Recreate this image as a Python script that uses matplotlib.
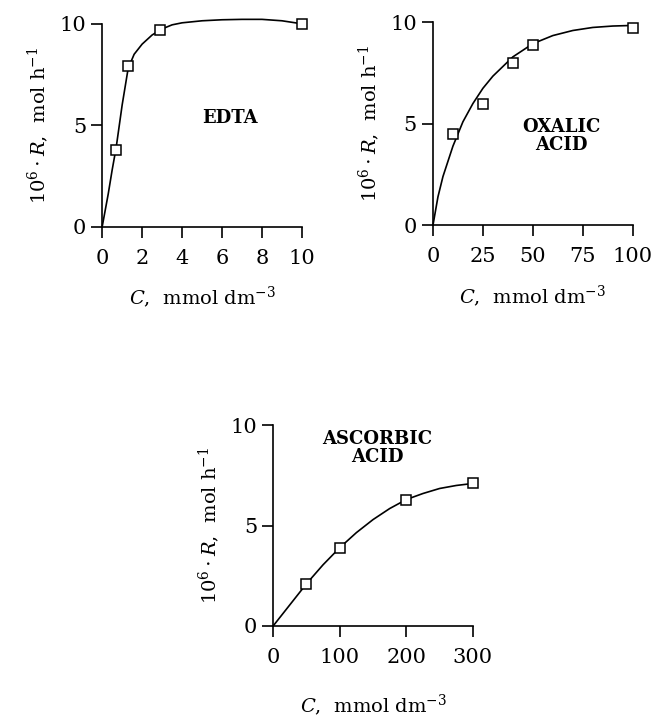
import matplotlib.pyplot as plt

plt.rcParams['font.family'] = ['DejaVu Serif']
plt.rcParams['mathtext.fontset'] = 'dejavuserif'

# --- data --- #
edta_c = [0.7, 1.3, 2.9, 10.0]
edta_r = [3.8, 7.9, 9.7, 10.0]
edta_fit_c = [0, 0.3, 0.5, 0.7, 1.0, 1.3, 1.6, 2.0, 2.5, 3.0, 3.5, 4, 5, 6, 7, 8, 9, 10]
edta_fit_r = [0, 1.6, 2.8, 3.9, 6.0, 7.8, 8.5, 9.0, 9.45, 9.75, 9.95, 10.05, 10.15, 10.2, 10.22, 10.22, 10.15, 10.0]

oxalic_c = [10, 25, 40, 50, 100]
oxalic_r = [4.5, 6.0, 8.0, 8.9, 9.7]
oxalic_fit_c = [0, 2.5, 5, 10, 15, 20, 25, 30, 40, 50, 60, 70, 80, 90, 100]
oxalic_fit_r = [0, 1.4, 2.4, 3.9, 5.1, 6.0, 6.75, 7.35, 8.3, 8.95, 9.35, 9.6, 9.75, 9.82, 9.85]

ascorbic_c = [50, 100, 200, 300]
ascorbic_r = [2.1, 3.9, 6.3, 7.1]
ascorbic_fit_c = [0, 25, 50, 75, 100, 125, 150, 175, 200, 225, 250, 275, 300]
ascorbic_fit_r = [0, 1.05, 2.1, 3.05, 3.9, 4.65, 5.3, 5.85, 6.3, 6.6, 6.85, 7.0, 7.1]

panels = [
    ([0.156, 0.686, 0.305, 0.281], edta_c, edta_r, edta_fit_c, edta_fit_r,
     [0, 2, 4, 6, 8, 10], 10, "EDTA", (6.4, 5.35), 12),
    ([0.661, 0.688, 0.305, 0.281], oxalic_c, oxalic_r, oxalic_fit_c, oxalic_fit_r,
     [0, 25, 50, 75, 100], 100, "OXALIC\nACID", (64.5, 4.4), 12),
    ([0.417, 0.133, 0.305, 0.278], ascorbic_c, ascorbic_r, ascorbic_fit_c, ascorbic_fit_r,
     [0, 100, 200, 300], 300, "ASCORBIC\nACID", (156, 8.85), 18),
]

fig = plt.figure(figsize=(6.55, 7.22), dpi=100)

for rect, xc, yr, fc, fr, xticks, xmax, label, lpos, xpad in panels:
    ax = fig.add_axes(rect)
    ax.plot(fc, fr, color='black', lw=1.2, clip_on=False)
    ax.plot(xc, yr, 's', mfc='white', mec='black', ms=7, mew=1.1, clip_on=False)
    ax.set_xlim(0, xmax)
    ax.set_ylim(0, 10)
    ax.set_xticks(xticks)
    ax.set_yticks([0, 5, 10])
    for s in ['top', 'right']:
        ax.spines[s].set_visible(False)
    for s in ['left', 'bottom']:
        ax.spines[s].set_linewidth(1.2)
    ax.tick_params(axis='x', direction='out', length=8, width=1.2, labelsize=15, pad=8)
    ax.tick_params(axis='y', direction='out', length=8, width=1.2, labelsize=15)
    ax.set_ylabel(r'$10^6\cdot R$,  mol h$^{-1}$', fontsize=14, labelpad=6)
    ax.set_xlabel(r'$C$,  mmol dm$^{-3}$', fontsize=14, labelpad=xpad)
    ax.text(lpos[0], lpos[1], label, ha='center', va='center',
            fontsize=13, fontweight='bold', linespacing=1.0)

fig.savefig('out.png', dpi=100)
